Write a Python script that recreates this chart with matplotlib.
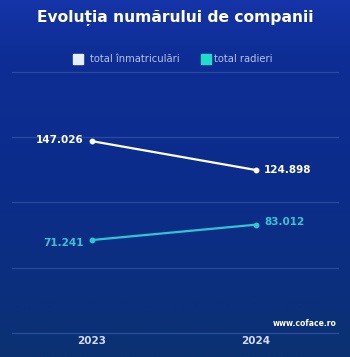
import numpy as np
import matplotlib.pyplot as plt
from matplotlib.colors import LinearSegmentedColormap
from matplotlib.patches import Rectangle

years = ["2023", "2024"]
inmatriculari = [147026, 124898]
radieri = [71241, 83012]
labels_inm = ["147.026", "124.898"]
labels_rad = ["71.241", "83.012"]

fig = plt.figure(figsize=(3.5, 3.57), dpi=100)

# background gradient
bg = fig.add_axes([0, 0, 1, 1], zorder=0)
cmap = LinearSegmentedColormap.from_list(
    "bg", [(0, "#1534a8"), (0.15, "#0e2e96"), (0.5, "#0c2c8b"), (0.8, "#0b2f7e"), (1, "#0b3272")])
grad = np.linspace(0, 1, 256).reshape(-1, 1)
bg.imshow(grad, aspect="auto", cmap=cmap, extent=[0, 1, 0, 1], origin="upper")
bg.set_xlim(0, 1)
bg.set_ylim(0, 1)
bg.axis("off")

ax = fig.add_axes([12 / 350, 1 - 333 / 357, 326 / 350, (333 - 72) / 357], zorder=1)
ax.patch.set_alpha(0)
x = np.arange(len(years))

ax.plot(x, inmatriculari, color="white", lw=1.6, marker="o", ms=3.2, zorder=3)
ax.plot(x, radieri, color="#2cc6d6", lw=1.6, marker="o", ms=3.2, zorder=3)

ax.set_xlim(-0.487, 1.501)
ax.set_ylim(0, 200000)
ax.set_yticks([0, 50000, 100000, 150000, 200000])
ax.grid(axis="y", color="#2a4c9e", lw=0.9)
for gl in ax.get_ygridlines():
    gl.set_clip_on(False)
ax.set_axisbelow(True)
for s in ax.spines.values():
    s.set_visible(False)
ax.tick_params(length=0, labelleft=False)
ax.set_xticks(x)
ax.set_xticklabels(years, fontsize=7.5, fontweight="bold", color="#d3ddf2")
ax.tick_params(axis="x", pad=2)

# data labels
ax.annotate(labels_inm[0], (x[0], inmatriculari[0]), xytext=(-6, 1), textcoords="offset points",
            ha="right", va="center", color="white", fontsize=7.5, fontweight="bold")
ax.annotate(labels_inm[1], (x[1], inmatriculari[1]), xytext=(6, 0), textcoords="offset points",
            ha="left", va="center", color="white", fontsize=7.5, fontweight="bold")
ax.annotate(labels_rad[0], (x[0], radieri[0]), xytext=(-6, -2), textcoords="offset points",
            ha="right", va="center", color="#35c6d6", fontsize=7.5, fontweight="bold")
ax.annotate(labels_rad[1], (x[1], radieri[1]), xytext=(6, 2), textcoords="offset points",
            ha="left", va="center", color="#35c6d6", fontsize=7.5, fontweight="bold")

# title
fig.text(0.5, 1 - 18 / 357, "Evoluția numărului de companii", ha="center", va="center",
         color="white", fontsize=11.2, fontweight="bold")

# legend
bg.add_patch(Rectangle((73 / 350, 1 - 64 / 357), 10 / 350, 10 / 357, color="#e6eefc",
                       transform=fig.transFigure, zorder=2))
fig.text(90 / 350, 1 - 59 / 357, "total înmatriculări", ha="left", va="center",
         color="#b4c2e4", fontsize=7.2)
bg.add_patch(Rectangle((201 / 350, 1 - 64 / 357), 10 / 350, 10 / 357, color="#1fdcc8",
                       transform=fig.transFigure, zorder=2))
fig.text(214 / 350, 1 - 59 / 357, "total radieri", ha="left", va="center",
         color="#b4c2e4", fontsize=7.2)

fig.text(337 / 350, 1 - 324 / 357, "www.coface.ro", ha="right", va="center",
         color="white", fontsize=5.5, fontweight="bold")

fig.savefig("out.png", dpi=100)
